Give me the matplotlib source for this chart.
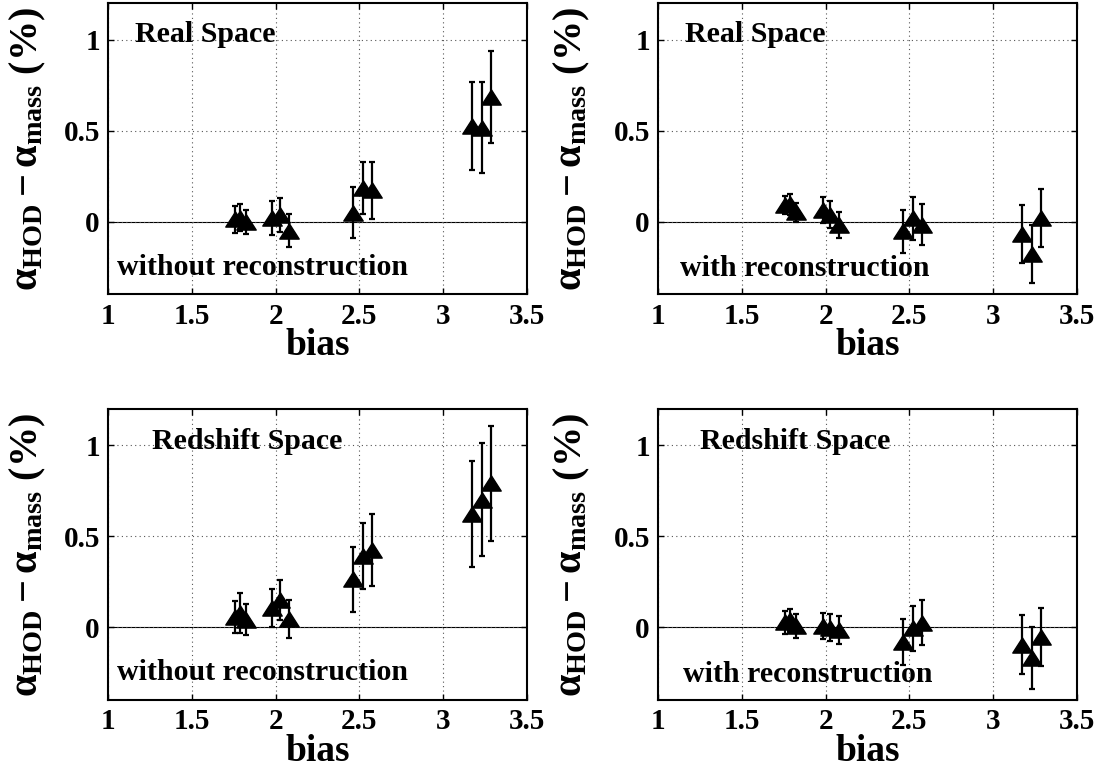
import matplotlib
matplotlib.use("Agg")
import matplotlib.pyplot as plt
import numpy as np
from matplotlib.path import Path

plt.rcParams["font.family"] = ["Liberation Serif", "DejaVu Serif"]
plt.rcParams["font.weight"] = "bold"
plt.rcParams["axes.labelweight"] = "bold"
plt.rcParams["mathtext.fontset"] = "custom"
plt.rcParams["mathtext.rm"] = "Liberation Serif:bold"
plt.rcParams["mathtext.it"] = "Liberation Serif:bold"
plt.rcParams["mathtext.bf"] = "Liberation Serif:bold"

# Galaxy bias of each HOD sample (same for all panels)
bias = [1.755, 1.785, 1.821, 1.981, 2.026, 2.082,
        2.462, 2.519, 2.577, 3.171, 3.230, 3.288]

# alpha_HOD - alpha_mass (%) and 1-sigma errors
real_pre = [0.013, 0.022, 0.000, 0.019, 0.037, -0.050,
            0.048, 0.185, 0.172, 0.527, 0.516, 0.685]
real_pre_err = [0.075, 0.075, 0.066, 0.092, 0.095, 0.092,
                0.141, 0.145, 0.157, 0.243, 0.249, 0.255]

real_post = [0.090, 0.094, 0.050, 0.063, 0.038, -0.018,
             -0.054, 0.017, -0.017, -0.068, -0.178, 0.020]
real_post_err = [0.050, 0.060, 0.050, 0.072, 0.074, 0.072,
                 0.118, 0.118, 0.113, 0.161, 0.160, 0.158]

rsd_pre = [0.057, 0.078, 0.042, 0.106, 0.150, 0.044,
           0.263, 0.391, 0.425, 0.624, 0.701, 0.791]
rsd_pre_err = [0.089, 0.110, 0.084, 0.104, 0.110, 0.106,
               0.177, 0.180, 0.197, 0.292, 0.310, 0.317]

rsd_post = [0.027, 0.040, 0.008, 0.007, -0.002, -0.017,
            -0.081, -0.007, 0.024, -0.096, -0.168, -0.053]
rsd_post_err = [0.064, 0.060, 0.065, 0.073, 0.075, 0.076,
                0.125, 0.124, 0.124, 0.161, 0.170, 0.159]

space_labels = ["Real Space", "Real Space", "Redshift Space", "Redshift Space"]
recon_labels = ["without reconstruction", "with reconstruction",
                "without reconstruction", "with reconstruction"]

xticks = [1, 1.5, 2, 2.5, 3, 3.5]
xtick_labels = ["1", "1.5", "2", "2.5", "3", "3.5"]
yticks = [0, 0.5, 1]
ytick_labels = ["0", "0.5", "1"]

# squat upward triangle
tri = Path([(0, 0.78), (-1, -0.78), (1, -0.78), (0, 0.78)],
           [Path.MOVETO, Path.LINETO, Path.LINETO, Path.CLOSEPOLY])

fig = plt.figure(figsize=(11.04, 7.78), dpi=100)
w, h = 0.379, 0.374
positions = [(0.0981, 0.6217), (0.5963, 0.6217), (0.0981, 0.1003), (0.5963, 0.1003)]
series = [(real_pre, real_pre_err), (real_post, real_post_err),
          (rsd_pre, rsd_pre_err), (rsd_post, rsd_post_err)]
space_pos = [(1.16, 1.03), (1.16, 1.03), (1.26, 1.02), (1.25, 1.02)]
recon_pos = [(1.05, -0.25), (1.13, -0.26), (1.05, -0.25), (1.15, -0.26)]
ylabel_x = [-0.145, -0.158, -0.145, -0.158]

for i, (pos, (vals, errs)) in enumerate(zip(positions, series)):
    ax = fig.add_axes([pos[0], pos[1], w, h])
    ax.set_xlim(1, 3.5)
    ax.set_ylim(-0.4, 1.2)
    ax.grid(True, linestyle=(0, (1, 3)), color="#555555", linewidth=0.8)
    ax.axhline(0, color="black", linewidth=0.8, zorder=1.5)
    ax.errorbar(bias, vals, yerr=errs, fmt="none", ecolor="black",
                elinewidth=1.6, capsize=2.0, capthick=1.6, zorder=3)
    ax.plot(bias, vals, linestyle="none", marker=tri, markersize=14,
            color="black", zorder=4)
    ax.set_xticks(xticks)
    ax.set_xticklabels(xtick_labels)
    ax.set_yticks(yticks)
    ax.set_yticklabels(ytick_labels)
    ax.tick_params(direction="in", length=4, width=1, labelsize=21,
                   top=True, right=True, pad=6)
    for sp in ax.spines.values():
        sp.set_linewidth(1.5)
    ax.set_xlabel("bias", fontsize=27, labelpad=-1)
    ax.set_ylabel(r"$\alpha_{\rm HOD} - \alpha_{\rm mass}$ (%)", fontsize=29)
    ax.yaxis.set_label_coords(ylabel_x[i], 0.5)
    ax.text(space_pos[i][0], space_pos[i][1], space_labels[i], fontsize=21.5,
            va="center", ha="left")
    ax.text(recon_pos[i][0], recon_pos[i][1], recon_labels[i], fontsize=21.5,
            va="center", ha="left")

fig.savefig("out.png", dpi=100)
